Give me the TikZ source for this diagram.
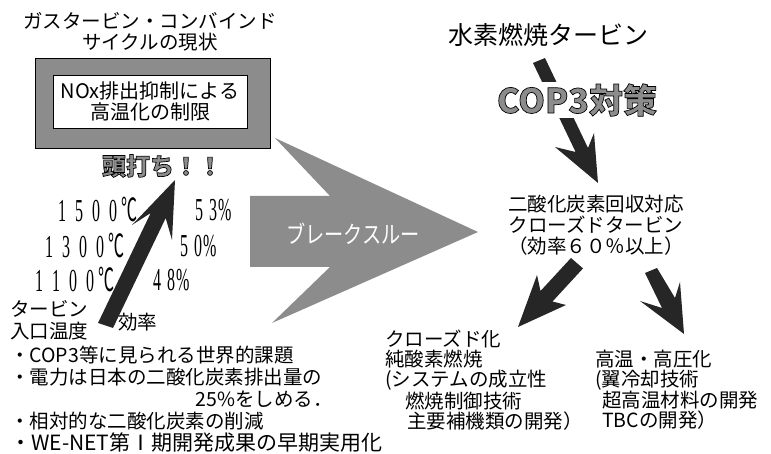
\documentclass[tikz,border=0pt]{standalone}
\usepackage{fontspec}
\setmainfont{Noto Sans CJK JP}
\newfontfamily\numfont{Liberation Serif}
\newcommand\tnum[1]{\scalebox{0.5}[1]{\fontsize{32}{32}\selectfont #1}}
\newcommand\outlined[1]{{\color{black!45}\special{pdf:literal direct 0 G 2 Tr 0.7 w}#1\special{pdf:literal direct 0 Tr 0.4 w}}}
\tikzset{
  txt/.style={inner sep=0pt, font=\fontsize{19.5}{21}\selectfont},
  hatchfill/.style={fill=black!45},
  darkarrow/.style={fill=black!85},
}
\begin{document}
\begin{tikzpicture}[x=1pt,y=-1pt]
\useasboundingbox[fill=white] (0,0) rectangle (771,454);

% ---- left: title and limitation box
\node[txt, align=center] (title) at (150,31.5) {ガスタービン・コンバインド\\サイクルの現状};
\node[draw, hatchfill, minimum width=235pt, minimum height=90pt, inner sep=0pt] (frame) at (152.5,103) {};
\node[draw, fill=white, minimum width=194pt, minimum height=53pt, align=center, txt, font=\fontsize{20}{21}\selectfont] (limit) at (150,101.5) {NOx排出抑制による\\高温化の制限};
\node[inner sep=0pt, font=\fontsize{24}{24}\selectfont\bfseries] (top) at (162,166) {\outlined{頭打ち！！}};

% ---- rising arrow
\fill[darkarrow] (98,323) -- (150.7,213) -- (132,225) -- (175,180) -- (172,240) -- (165.7,218) -- (113,328) -- cycle;

% ---- temperatures and efficiencies
\node[inner sep=0pt, anchor=west] (t1500) at (58,210) {\tnum{\numfont 1\kern18pt 5\kern18pt 0\kern18pt 0\kern8pt\normalfont ℃}};
\node[inner sep=0pt, anchor=west] (t1300) at (45,246) {\tnum{\numfont 1\kern18pt 3\kern18pt 0\kern18pt 0\kern8pt\normalfont ℃}};
\node[inner sep=0pt, anchor=west] (t1100) at (35,280) {\tnum{\numfont 1\kern18pt 1\kern18pt 0\kern18pt 0\kern8pt\normalfont ℃}};
\node[inner sep=0pt, anchor=west] (e53) at (195,210) {\tnum{\numfont 5\kern12pt 3\kern2pt\%}};
\node[inner sep=0pt, anchor=west] (e50) at (180,246) {\tnum{\numfont 5\kern12pt 0\kern2pt\%}};
\node[inner sep=0pt, anchor=west] (e48) at (153,280) {\tnum{\numfont 4\kern12pt 8\kern2pt\%}};
\node[txt, anchor=west, align=left, font=\fontsize{19.5}{22}\selectfont] (inlet) at (10,320) {タービン\\入口温度};
\node[txt, anchor=west] (eff) at (118,322) {効率};

% ---- bullet list
\node[txt, anchor=west] (b1) at (10,355) {・COP3等に見られる世界的課題};
\node[txt, anchor=west] (b2) at (10,377) {・電力は日本の二酸化炭素排出量の};
\node[txt, anchor=east] (b2b) at (333,399) {25\%をしめる．};
\node[txt, anchor=west] (b3) at (10,421) {・相対的な二酸化炭素の削減};
\node[txt, anchor=west, font=\fontsize{21}{21}\selectfont] (b4) at (10,443) {・WE-NET第Ⅰ期開発成果の早期実用化};

% ---- breakthrough arrow
\fill[hatchfill] (250,196) -- (330,196) -- (275,138) -- (478,232) -- (272,323) -- (330,267) -- (250,267) -- cycle;
\node[inner sep=0pt, text=white] (bt) at (353,234) {\scalebox{0.8}[1]{\fontsize{24}{24}\selectfont ブレークスルー}};

% ---- right side
\node[inner sep=0pt, font=\fontsize{25}{25}\selectfont] (h2) at (548,35) {水素燃焼タービン};
\fill[darkarrow] (533,63) -- (575.6,152) -- (555,147) -- (598,183) -- (594,133) -- (588,148) -- (545,58) -- cycle;
\node[fill=white, inner sep=2pt, font=\fontsize{34}{34}\selectfont\bfseries] (cop) at (577,100) {\outlined{COP3対策}};
\node[txt, align=center] (closed) at (596,225) {二酸化炭素回収対応\\クローズドタービン\\（効率６０％以上）};

\fill[darkarrow] (571,258) -- (540.5,291) -- (537,275) -- (518,327) -- (566,305) -- (552.5,301.5) -- (583,268.4) -- cycle;
\fill[darkarrow] (645,273) -- (662,308) -- (640,301) -- (684,334) -- (680,282) -- (675,298) -- (657,268) -- cycle;

\node[txt, anchor=north west, align=left, font=\fontsize{19.5}{20}\selectfont] (oxy) at (385,330) {クローズド化\\純酸素燃焼\\(システムの成立性\\\hspace*{20pt}燃焼制御技術\\\hspace*{22pt}主要補機類の開発）};
\node[txt, anchor=north west, align=left, font=\fontsize{19.5}{20}\selectfont] (hot) at (595,350) {高温・高圧化\\(翼冷却技術\\\hspace*{7pt}超高温材料の開発\\\hspace*{7pt}TBCの開発）};
\end{tikzpicture}
\end{document}
